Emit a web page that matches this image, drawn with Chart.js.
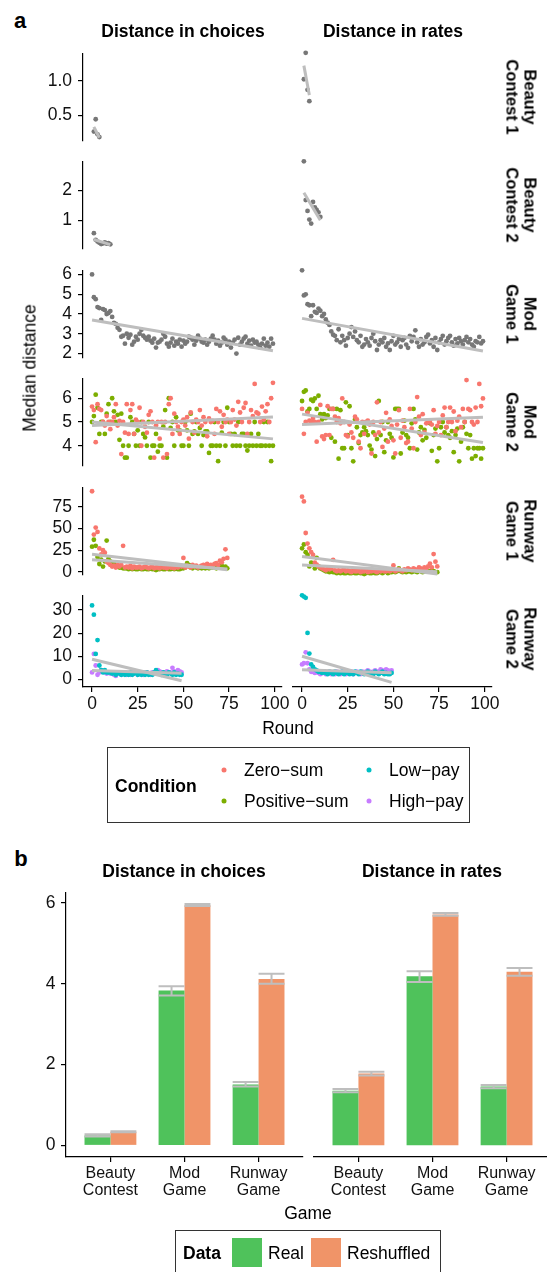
<!DOCTYPE html>
<html>
<head>
<meta charset="utf-8">
<script src="https://cdn.jsdelivr.net/npm/chart.js@4.4.1/dist/chart.umd.min.js"></script>
<style>
  body { margin:0; width:547px; height:1272px; overflow:hidden; background:#fff; position:relative;
         font-family:"Liberation Sans", Arial, sans-serif; color:#000; }
  canvas { position:absolute; }
  .txt { position:absolute; white-space:nowrap; }
  .box { position:absolute; border:1px solid #333; box-sizing:border-box; }
  .dot { position:absolute; width:5px; height:5px; border-radius:50%; transform:translate(-50%,-50%); }
</style>
</head>
<body>
<script>
// ---- data: panel a (median distance per round) ----
const roundsBC1 = [1, 2, 3, 4];
const roundsBC2 = [1, 2, 3, 4, 5, 6, 7, 8, 9, 10];
const roundsMod = Array.from({length: 100}, (_, i) => i);
const roundsRun1 = Array.from({length: 75}, (_, i) => i);
const roundsRun2 = Array.from({length: 50}, (_, i) => i);
const roundTicks = [0, 25, 50, 75, 100];

const bc1Choice = [0.26, 0.44, 0.22, 0.18];
const bc1Rate = [1.0, 1.35, 0.86, 0.71];
const bc2Choice = [0.58, 0.36, 0.30, 0.26, 0.22, 0.24, 0.27, 0.23, 0.25, 0.21];
const bc2Rate = [2.84, 1.67, 1.34, 1.08, 0.96, 1.61, 1.45, 1.37, 1.30, 1.16];

const mod1Choice = [
  6.0, 4.85, 4.75, 4.35, 4.3, 3.7, 4.25, 4.2, 4.0, 4.05,
  4.15, 3.85, 3.55, 3.5, 3.3, 3.2, 2.85, 2.9, 2.5, 3.0,
  2.8, 2.95, 2.45, 2.6, 2.85, 2.7, 3.0, 3.2, 2.9, 2.8,
  2.7, 2.85, 2.65, 2.55, 2.75, 2.3, 2.55, 2.6, 2.7, 3.0,
  2.85, 2.5, 2.35, 2.55, 2.75, 2.4, 2.6, 2.5, 2.7, 2.35,
  2.65, 2.5, 2.6, 2.85, 2.8, 2.7, 2.45, 2.65, 2.9, 2.75,
  2.6, 2.55, 2.7, 2.45, 2.6, 2.75, 2.9, 2.7, 2.5, 2.65,
  2.4, 2.55, 2.8, 2.7, 2.45, 2.6, 2.3, 2.55, 2.7, 2.0,
  2.8, 2.45, 2.6, 2.75, 2.85, 2.5, 2.65, 2.4, 2.7, 2.55,
  2.6, 2.45, 2.3, 2.5, 2.75, 2.4, 2.55, 2.35, 2.75, 2.5];
const mod1Rate = [
  6.0, 4.85, 4.9, 4.45, 4.4, 3.9, 4.4, 4.1, 4.05, 4.25,
  4.15, 3.9, 4.0, 3.75, 3.6, 3.5, 3.2, 3.05, 3.0, 2.8,
  3.3, 2.7, 3.0, 2.8, 2.55, 2.9, 3.1, 3.4, 2.95, 3.2,
  2.8, 2.7, 3.0, 2.5, 2.6, 2.85, 2.7, 2.55, 2.9, 3.1,
  2.75, 2.35, 2.6, 2.8, 2.7, 2.9, 2.5, 2.65, 2.35, 2.75,
  3.0, 2.6, 2.7, 2.85, 2.5, 2.8, 2.9, 2.6, 2.45, 3.0,
  2.75, 2.95, 3.25, 2.7, 2.5, 2.85, 2.6, 2.7, 2.95, 3.05,
  2.65, 2.8, 2.5, 2.9, 2.35, 2.7, 2.85, 3.0, 2.6, 2.75,
  2.9, 3.0, 2.7, 2.55, 2.85, 2.65, 2.9, 2.75, 2.6, 2.8,
  2.95, 2.7, 2.85, 2.6, 2.5, 2.75, 2.7, 2.95, 2.65, 2.75];

const mod2ChoiceZero = [
  5.65, 5.5, 4.15, 5.75, 5.55, 5.5, 5.0, 4.85, 5.25, 5.0,
  4.7, 5.0, 5.2, 5.75, 4.85, 5.05, 3.65, 5.0, 4.55, 5.75,
  4.5, 5.5, 5.75, 4.5, 5.1, 5.0, 5.6, 4.0, 5.0, 4.8,
  4.55, 5.3, 5.45, 5.0, 3.5, 4.85, 5.0, 4.3, 5.0, 3.5,
  5.0, 3.65, 5.75, 6.0, 4.5, 5.35, 5.0, 4.8, 4.5, 5.0,
  5.1, 4.85, 5.2, 4.3, 5.4, 5.0, 4.55, 5.1, 5.0, 5.5,
  4.85, 5.2, 5.0, 4.4, 5.15, 5.0, 5.05, 4.5, 5.55, 5.0,
  5.45, 4.8, 5.3, 5.0, 5.1, 4.5, 5.0, 5.5, 5.1, 4.85,
  5.85, 5.4, 5.0, 5.6, 5.8, 4.5, 5.0, 5.5, 5.25, 6.6,
  5.4, 5.35, 5.0, 5.65, 5.1, 5.45, 5.75, 5.0, 6.0, 6.65];
const mod2ChoicePos = [
  5.0, 5.25, 6.15, 5.6, 4.5, 5.0, 5.0, 4.5, 5.35, 5.75,
  5.0, 6.0, 5.45, 5.0, 5.3, 4.25, 5.35, 4.0, 3.5, 3.5,
  4.0, 5.2, 5.0, 4.5, 4.0, 4.65, 4.0, 5.0, 4.5, 4.35,
  4.0, 5.0, 3.5, 4.0, 4.0, 4.5, 3.75, 4.0, 4.0, 4.8,
  5.5, 3.5, 6.0, 4.75, 5.0, 4.0, 5.2, 4.65, 4.65, 4.0,
  4.0, 5.0, 4.65, 4.0, 5.35, 4.5, 4.6, 5.0, 4.5, 4.75,
  4.0, 4.45, 4.6, 4.6, 3.7, 4.0, 4.0, 5.0, 4.0, 3.35,
  4.0, 4.55, 5.0, 4.0, 5.6, 5.0, 4.5, 4.0, 4.5, 4.0,
  5.0, 4.0, 4.5, 4.5, 4.0, 3.8, 4.0, 4.5, 4.0, 5.0,
  4.0, 4.5, 4.0, 4.0, 5.0, 4.0, 5.0, 4.0, 3.35, 4.0];
const mod2RateZero = [
  5.5, 4.55, 5.0, 5.35, 5.05, 5.0, 5.15, 5.0, 4.25, 5.0,
  5.65, 4.45, 4.35, 4.5, 5.6, 4.5, 5.5, 5.5, 5.2, 5.0,
  5.15, 4.95, 5.9, 5.0, 4.5, 4.45, 4.9, 4.6, 4.4, 5.2,
  5.1, 4.25, 4.0, 5.0, 4.55, 5.0, 5.05, 4.9, 3.8, 5.0,
  4.5, 5.75, 4.6, 5.0, 4.05, 4.75, 5.35, 4.25, 5.1, 4.85,
  4.3, 3.8, 4.9, 5.45, 4.4, 5.05, 4.8, 4.2, 4.25, 5.5,
  4.75, 4.0, 5.0, 5.95, 5.2, 4.5, 5.3, 4.6, 4.95, 5.0,
  5.05, 4.9, 5.45, 4.55, 4.85, 5.0, 4.5, 5.25, 5.55, 4.8,
  5.0, 5.55, 5.0, 5.4, 4.65, 5.05, 5.2, 4.8, 5.5, 5.0,
  6.6, 5.5, 5.45, 5.0, 4.9, 5.55, 5.0, 6.45, 5.6, 5.9];
const mod2RatePos = [
  5.8, 6.15, 6.2, 5.4, 5.5, 5.85, 5.8, 5.9, 5.5, 6.0,
  5.3, 5.1, 5.3, 5.15, 5.25, 5.5, 4.4, 5.5, 4.25, 5.5,
  3.6, 5.45, 4.0, 4.0, 5.75, 4.5, 5.6, 4.0, 3.5, 5.1,
  4.8, 4.2, 4.5, 4.6, 4.8, 4.65, 4.5, 4.1, 3.95, 4.6,
  3.7, 4.35, 5.8, 4.5, 5.0, 3.85, 4.3, 5.0, 4.55, 4.4,
  3.65, 5.5, 5.5, 5.5, 3.8, 4.6, 5.05, 4.5, 4.4, 4.0,
  4.95, 5.5, 5.1, 3.95, 4.6, 4.8, 4.3, 4.7, 4.4, 5.0,
  4.95, 3.9, 4.5, 4.75, 3.5, 4.0, 4.8, 5.0, 4.6, 4.8,
  4.5, 4.4, 4.65, 3.85, 4.5, 4.75, 3.5, 4.25, 4.8, 5.0,
  4.55, 4.0, 4.5, 3.6, 4.0, 3.7, 4.0, 4.0, 3.6, 4.0];

const run1ChoiceZero = [
  93, 43, 51, 46, 27, 20, 25, 22, 12, 10,
  8, 6, 7, 5, 8, 6, 8, 30, 5, 6,
  5, 7, 4, 6, 5, 5, 6, 4, 5, 6,
  5, 4, 5, 6, 4, 5, 5, 4, 6, 5,
  5, 4, 6, 5, 5, 4, 6, 5, 7, 6,
  16, 5, 7, 6, 5, 8, 6, 7, 5, 6,
  7, 8, 6, 9, 7, 8, 6, 9, 10, 8,
  13, 11, 15, 26, 16];
const run1ChoicePos = [
  29, 37, 30, 17, 9, 14, 6, 12, 36, 15,
  12, 8, 10, 7, 6, 5, 5, 4, 4, 4,
  3, 4, 3, 4, 3, 3, 4, 3, 3, 4,
  3, 3, 4, 3, 3, 2, 3, 3, 4, 3,
  3, 4, 3, 3, 4, 3, 4, 3, 3, 4,
  4, 5, 10, 8, 5, 4, 6, 5, 4, 5,
  4, 5, 4, 5, 4, 5, 5, 6, 4, 5,
  6, 7, 5, 6, 4];
const run1RateZero = [
  83, 78, 45, 34, 29, 25, 22, 14, 12, 10,
  9, 8, 7, 6, 8, 7, 8, 17, 6, 5,
  6, 5, 6, 7, 5, 6, 5, 4, 6, 5,
  5, 6, 4, 5, 5, 6, 4, 5, 5, 6,
  5, 4, 6, 5, 6, 5, 5, 6, 5, 6,
  11, 5, 6, 7, 6, 5, 7, 6, 8, 7,
  6, 8, 7, 6, 9, 8, 7, 9, 8, 10,
  13, 9, 23, 15, 10];
const run1RatePos = [
  29, 33, 25, 22, 10, 14, 12, 8, 19, 10,
  8, 7, 6, 5, 5, 4, 5, 4, 4, 3,
  4, 3, 4, 3, 3, 4, 3, 3, 4, 3,
  3, 4, 3, 3, 2, 3, 4, 3, 3, 4,
  3, 3, 4, 4, 3, 4, 5, 3, 4, 4,
  5, 4, 5, 8, 5, 4, 5, 4, 5, 5,
  4, 5, 5, 4, 6, 5, 4, 5, 6, 5,
  5, 6, 5, 4, 4];

const run2ChoiceLow = [
  32, 28, 11, 17, 6, 4, 3, 4, 3, 3,
  3, 2.5, 3, 2, 3, 2.5, 2, 3, 2, 2.5,
  2, 3, 2, 2.5, 3, 2, 2.5, 2, 3, 2,
  3, 2, 2.5, 2, 3, 4, 3, 2.5, 2, 3,
  2.5, 2, 3, 2.5, 2, 3, 2, 2.5, 2, 2];
const run2ChoiceHigh = [
  3, 11, 6, 2, 3, 4, 3.5, 3, 2.5, 3,
  2.5, 3, 2, 1.5, 2.5, 3, 2, 2.5, 3, 2,
  2.5, 2, 3, 2.5, 3, 2, 2.5, 3, 2, 2.5,
  3, 2.5, 2, 3, 2.5, 3, 4, 3.5, 3, 2.5,
  3, 3.5, 3, 3, 5, 3.5, 3, 4, 3.5, 3];
const run2RateLow = [
  34.5, 34, 33.5, 19, 10.5, 6, 5, 4, 3.5, 3,
  3, 2.5, 3, 2.5, 2, 3, 2.5, 2, 3, 2.5,
  2, 2.5, 3, 2, 2.5, 3, 2, 2.5, 2, 3,
  2.5, 2, 3, 2.5, 2, 2.5, 3, 2, 2.5, 2,
  3, 2.5, 2, 2.5, 3, 2, 2.5, 2, 2, 2.5];
const run2RateHigh = [
  6, 6.5, 11, 6.5, 4, 3, 3, 2.5, 3, 2.5,
  2, 2.5, 3, 2, 2.5, 3, 2, 2.5, 2, 3,
  2.5, 2, 3, 2.5, 2, 3, 2.5, 3, 2, 2.5,
  3, 2.5, 2, 3, 2.5, 3, 3.5, 3, 2.5, 3,
  3.5, 3, 3, 4, 3.5, 3, 4, 3.5, 3, 3.5];

// fitted trend lines: value at first round, value at last round
const fitBC1Choice = [0.33, 0.17], fitBC1Rate = [1.18, 0.79];
const fitBC2Choice = [0.37, 0.20], fitBC2Rate = [1.89, 1.06];
const fitMod1Choice = [3.70, 2.14], fitMod1Rate = [3.80, 2.30];
const fitMod2ChoiceZero = [4.85, 5.21], fitMod2ChoicePos = [5.00, 4.29];
const fitMod2RateZero = [4.90, 5.18], fitMod2RatePos = [5.30, 4.22];
const fitRun1ChoiceZero = [20.2, 2.5], fitRun1ChoicePos = [14.0, 3.3];
const fitRun1RateZero = [11.5, 4.5], fitRun1RatePos = [20.5, 2.0];
const fitRun2ChoiceLow = [8.7, -0.6], fitRun2ChoiceHigh = [3.8, 2.6];
const fitRun2RateLow = [9.4, -1.4], fitRun2RateHigh = [3.8, 2.6];

// y tick labels for each facet row
const bc1YTicks = ['0.5', '1.0'];
const bc2YTicks = ['1', '2'];
const mod1YTicks = ['2', '3', '4', '5', '6'];
const mod2YTicks = ['4', '5', '6'];
const run1YTicks = ['0', '25', '50', '75'];
const run2YTicks = ['0', '10', '20', '30'];

// ---- data: panel b ----
const games = [['Beauty', 'Contest'], ['Mod', 'Game'], ['Runway', 'Game']];
const choicesReal = [0.25, 3.83, 1.51], choicesRealLo = [0.22, 3.71, 1.46], choicesRealHi = [0.28, 3.94, 1.57];
const choicesShuf = [0.34, 5.94, 4.12], choicesShufLo = [0.33, 5.92, 4.00], choicesShufHi = [0.35, 5.97, 4.25];
const ratesReal = [1.33, 4.12, 1.43], ratesRealLo = [1.29, 3.98, 1.39], ratesRealHi = [1.37, 4.24, 1.47];
const ratesShuf = [1.75, 5.62, 4.23], ratesShufLo = [1.70, 5.59, 4.13], ratesShufHi = [1.79, 5.66, 4.32];
const barYTicks = ['0', '2', '4', '6'];

const GRAY = '#777777', ZERO = '#F8766D', POS = '#7CAE00', LOW = '#00BFC4', HIGH = '#C77CFF';
const REAL = '#4FC25B', SHUF = '#F09468', FIT = '#BEBEBE';
const FONT = "'Liberation Sans', Arial, sans-serif";

Chart.defaults.font.family = FONT;
Chart.defaults.color = '#111';
Chart.defaults.animation = false;

function addCanvas(left, top, w, h) {
  const c = document.createElement('canvas');
  c.width = w; c.height = h;
  c.style.cssText = `left:${left}px;top:${top}px;width:${w}px;height:${h}px`;
  document.body.appendChild(c);
  return c;
}

function text(str, x, y, css, tf) {
  const d = document.createElement('div');
  d.className = 'txt';
  d.innerHTML = str;
  d.style.cssText = `left:${x}px;top:${y}px;` + (css || '');
  d.style.transform = tf || 'translate(-50%,-50%)';
  document.body.appendChild(d);
  return d;
}

function axisStyle() {
  return {
    grid: { drawOnChartArea: false, offset: false, tickLength: 5, color: '#000', lineWidth: 1.2 },
    border: { color: '#000', width: 1.2 }
  };
}

// ---- panel a: facet grid of scatter plots ----
const P = 12;
const plotX = [[83, 282], [293, 492]];
const plotTop = [49, 157, 266, 374, 483, 591];
const plotH = 96;

function scatterPanel(col, row, yRange, yTicks, series) {
  const bottom = row === plotTop.length - 1;
  const left = col === 0 ? 0 : plotX[1][0] - P;
  const top = plotTop[row] - P;
  const w = plotX[col][1] + 16 - left;
  const h = P + plotH + (bottom ? 32 : P);
  const datasets = [];
  series.forEach(s => {
    datasets.push({
      type: 'line', order: 0,
      data: [{x: s.rounds[0], y: s.fit[0]}, {x: s.rounds[s.rounds.length - 1], y: s.fit[1]}],
      borderColor: FIT, borderWidth: 3, pointRadius: 0
    });
    datasets.push({
      order: 1,
      data: s.values.map((v, i) => ({x: s.rounds[i], y: v})),
      backgroundColor: s.color, pointRadius: 2.4, pointBorderWidth: 0, borderWidth: 0
    });
  });
  new Chart(addCanvas(left, top, w, h), {
    type: 'scatter',
    data: { datasets },
    options: {
      responsive: false,
      layout: { padding: { top: P, right: 16, bottom: bottom ? 0 : P, left: col === 0 ? 0 : P } },
      plugins: { legend: { display: false }, tooltip: { enabled: false } },
      scales: {
        x: Object.assign(axisStyle(), {
          type: 'linear', min: -4.95, max: 103.95, display: bottom,
          afterFit: s => { if (bottom) s.height = 32; },
          afterBuildTicks: s => { s.ticks = roundTicks.map(v => ({value: v})); },
          ticks: { font: { size: 17.5 }, padding: 2, maxRotation: 0, autoSkip: false, color: '#111' }
        }),
        y: Object.assign(axisStyle(), {
          min: yRange[0], max: yRange[1], display: col === 0,
          afterFit: s => { if (col === 0) s.width = plotX[0][0]; },
          afterBuildTicks: s => { s.ticks = yTicks.map(v => ({value: parseFloat(v)})); },
          ticks: { font: { size: 17.5 }, padding: 6, autoSkip: false, color: '#111',
                   callback: (v, i) => yTicks[i] }
        })
      }
    }
  });
}

const facetRows = [
  { label: 'Beauty<br>Contest 1', range: [0.13, 1.40], ticks: bc1YTicks,
    choice: [{rounds: roundsBC1, values: bc1Choice, fit: fitBC1Choice, color: GRAY}],
    rate: [{rounds: roundsBC1, values: bc1Rate, fit: fitBC1Rate, color: GRAY}] },
  { label: 'Beauty<br>Contest 2', range: [0.07, 2.97], ticks: bc2YTicks,
    choice: [{rounds: roundsBC2, values: bc2Choice, fit: fitBC2Choice, color: GRAY}],
    rate: [{rounds: roundsBC2, values: bc2Rate, fit: fitBC2Rate, color: GRAY}] },
  { label: 'Mod<br>Game 1', range: [1.8, 6.2], ticks: mod1YTicks,
    choice: [{rounds: roundsMod, values: mod1Choice, fit: fitMod1Choice, color: GRAY}],
    rate: [{rounds: roundsMod, values: mod1Rate, fit: fitMod1Rate, color: GRAY}] },
  { label: 'Mod<br>Game 2', range: [3.17, 6.83], ticks: mod2YTicks,
    choice: [{rounds: roundsMod, values: mod2ChoiceZero, fit: fitMod2ChoiceZero, color: ZERO},
             {rounds: roundsMod, values: mod2ChoicePos, fit: fitMod2ChoicePos, color: POS}],
    rate: [{rounds: roundsMod, values: mod2RateZero, fit: fitMod2RateZero, color: ZERO},
           {rounds: roundsMod, values: mod2RatePos, fit: fitMod2RatePos, color: POS}] },
  { label: 'Runway<br>Game 1', range: [-3.1, 97.3], ticks: run1YTicks,
    choice: [{rounds: roundsRun1, values: run1ChoiceZero, fit: fitRun1ChoiceZero, color: ZERO},
             {rounds: roundsRun1, values: run1ChoicePos, fit: fitRun1ChoicePos, color: POS}],
    rate: [{rounds: roundsRun1, values: run1RateZero, fit: fitRun1RateZero, color: ZERO},
           {rounds: roundsRun1, values: run1RatePos, fit: fitRun1RatePos, color: POS}] },
  { label: 'Runway<br>Game 2', range: [-3.3, 36.3], ticks: run2YTicks,
    choice: [{rounds: roundsRun2, values: run2ChoiceLow, fit: fitRun2ChoiceLow, color: LOW},
             {rounds: roundsRun2, values: run2ChoiceHigh, fit: fitRun2ChoiceHigh, color: HIGH}],
    rate: [{rounds: roundsRun2, values: run2RateLow, fit: fitRun2RateLow, color: LOW},
           {rounds: roundsRun2, values: run2RateHigh, fit: fitRun2RateHigh, color: HIGH}] }
];

facetRows.forEach((r, i) => {
  scatterPanel(0, i, r.range, r.ticks, r.choice);
  scatterPanel(1, i, r.range, r.ticks, r.rate);
  text(r.label, 521, plotTop[i] + plotH / 2,
       'font:bold 16.5px ' + FONT + ';line-height:17.5px;text-align:center',
       'translate(-50%,-50%) rotate(90deg)');
});

const bold17 = 'font:bold 17.5px ' + FONT;
const reg17 = 'font:17.5px ' + FONT;
text('a', 20, 21, 'font:bold 22px ' + FONT);
text('Distance in choices', 183, 31, bold17);
text('Distance in rates', 393, 31, bold17);
text('Median distance', 30, 368, reg17, 'translate(-50%,-50%) rotate(-90deg)');
text('Round', 288, 728, reg17);

// condition legend
const legA = document.createElement('div');
legA.className = 'box';
legA.style.cssText = 'left:107px;top:747px;width:363px;height:76px';
document.body.appendChild(legA);
text('Condition', 115, 786, bold17, 'translateY(-50%)');
[[ZERO, 'Zero\u2212sum', 224, 770], [POS, 'Positive\u2212sum', 224, 801],
 [LOW, 'Low\u2212pay', 369, 770], [HIGH, 'High\u2212pay', 369, 801]].forEach(([c, s, x, y]) => {
  const d = document.createElement('div');
  d.className = 'dot';
  d.style.cssText = `left:${x}px;top:${y}px;background:${c}`;
  document.body.appendChild(d);
  text(s, x + 20, y, reg17, 'translateY(-50%)');
});

// ---- panel b: bar charts with error bars ----
const errorBars = {
  id: 'errorBars',
  afterDatasetsDraw(chart) {
    const ctx = chart.ctx, y = chart.scales.y;
    chart.data.datasets.forEach((ds, di) => {
      chart.getDatasetMeta(di).data.forEach((bar, i) => {
        const hw = bar.width / 2;
        const lo = y.getPixelForValue(ds.errLo[i]), hi = y.getPixelForValue(ds.errHi[i]);
        ctx.save();
        ctx.strokeStyle = FIT;
        ctx.lineWidth = 2;
        ctx.beginPath();
        ctx.moveTo(bar.x, lo); ctx.lineTo(bar.x, hi);
        ctx.moveTo(bar.x - hw, lo); ctx.lineTo(bar.x + hw, lo);
        ctx.moveTo(bar.x - hw, hi); ctx.lineTo(bar.x + hw, hi);
        ctx.stroke();
        ctx.restore();
      });
    });
  }
};

const barTop = 889, barBottom = 1157;

function barPanel(plotL, plotR, showY, real, realLo, realHi, shuf, shufLo, shufHi) {
  const left = showY ? 0 : plotL - P;
  const w = plotR + 16 - left;
  const h = P + (barBottom - barTop) + 46;
  new Chart(addCanvas(left, barTop - P, w, h), {
    type: 'bar',
    data: {
      datasets: [
        { label: 'Real', data: real.map((v, i) => ({x: i, y: v})), backgroundColor: REAL,
          errLo: realLo, errHi: realHi },
        { label: 'Reshuffled', data: shuf.map((v, i) => ({x: i, y: v})), backgroundColor: SHUF,
          errLo: shufLo, errHi: shufHi }
      ]
    },
    options: {
      responsive: false,
      categoryPercentage: 0.70,
      barPercentage: 1.0,
      layout: { padding: { top: P, right: 16, bottom: 0, left: showY ? 0 : P } },
      plugins: { legend: { display: false }, tooltip: { enabled: false } },
      scales: {
        x: Object.assign(axisStyle(), {
          type: 'linear', min: -0.6, max: 2.6, offset: false,
          afterFit: s => { s.height = 46; },
          afterBuildTicks: s => { s.ticks = games.map((g, i) => ({value: i})); },
          ticks: { font: { size: 16, lineHeight: 1.08 }, padding: 3, maxRotation: 0, autoSkip: false,
                   color: '#111', callback: (v, i) => games[i] }
        }),
        y: Object.assign(axisStyle(), {
          min: -0.285, max: 6.244, display: showY,
          afterFit: s => { if (showY) s.width = plotL; },
          afterBuildTicks: s => { s.ticks = barYTicks.map(v => ({value: parseFloat(v)})); },
          ticks: { font: { size: 17.5 }, padding: 5.5, autoSkip: false, color: '#111',
                   callback: (v, i) => barYTicks[i] }
        })
      }
    },
    plugins: [errorBars]
  });
}

barPanel(66, 303, true, choicesReal, choicesRealLo, choicesRealHi, choicesShuf, choicesShufLo, choicesShufHi);
barPanel(314, 551, false, ratesReal, ratesRealLo, ratesRealHi, ratesShuf, ratesShufLo, ratesShufHi);

text('b', 21, 859, 'font:bold 22px ' + FONT);
text('Distance in choices', 184, 871, bold17);
text('Distance in rates', 432, 871, bold17);
text('Game', 308, 1213, reg17);

// data legend
const legB = document.createElement('div');
legB.className = 'box';
legB.style.cssText = 'left:175px;top:1230px;width:266px;height:50px';
document.body.appendChild(legB);
text('Data', 183, 1253, bold17, 'translateY(-50%)');
[[REAL, 'Real', 232], [SHUF, 'Reshuffled', 311]].forEach(([c, s, x]) => {
  const d = document.createElement('div');
  d.style.cssText = `position:absolute;left:${x}px;top:1238px;width:30px;height:29px;background:${c}`;
  document.body.appendChild(d);
  text(s, x + 36, 1253, reg17, 'translateY(-50%)');
});
</script>
</body>
</html>
